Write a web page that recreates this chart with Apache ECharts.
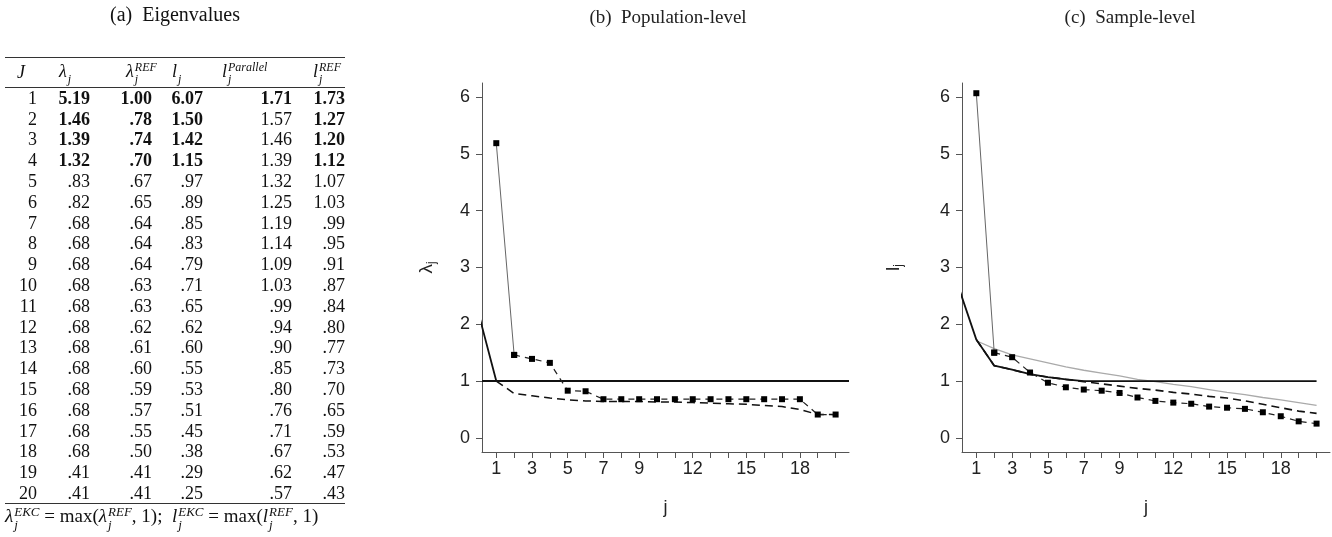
<!DOCTYPE html>
<html>
<head>
    <meta charset="utf-8">
    <script src="https://cdn.jsdelivr.net/npm/echarts@6.0.0/dist/echarts.min.js"></script>
    <style>
        * { margin: 0; padding: 0; box-sizing: border-box; }
        body { background: #fff; width: 1332px; height: 537px; position: relative; overflow: hidden; }
        #chart { position: absolute; left: 0; top: 0; width: 1332px; height: 537px; }
        #panelA {
            position: absolute; left: 5px; top: 0; width: 340px; height: 537px;
            font-family: 'Liberation Serif', 'DejaVu Serif', serif; color: #111; z-index: 2;
        }
        #panelA .ttl { position: absolute; top: 3px; left: 0; width: 340px; text-align: center; font-size: 20px; }
        #eig { position: absolute; top: 57px; left: 0; width: 340px; border-collapse: collapse; font-size: 18px; table-layout: fixed; }
        #eig thead tr { height: 30px; border-top: 1.5px solid #333; border-bottom: 1.5px solid #333; }
        #eig thead th { font-weight: normal; font-style: italic; text-align: left; white-space: nowrap; }
        #eig tbody tr { height: 20.8px; }
        #eig tbody tr:last-child { border-bottom: 1.5px solid #333; }
        #eig td { text-align: right; line-height: 20px; }
        #eig td.b { font-weight: bold; }
        .ss { display: inline-block; vertical-align: middle; line-height: 1; font-size: 12px; text-align: left; margin-left: 1px; }
        .ss span { display: block; }
        .note { position: absolute; top: 505px; left: 0; width: 345px; font-size: 19px; white-space: nowrap; }
        .note i { font-style: italic; }
        .note .ss { font-size: 13px; }
    </style>
</head>
<body>
    <div id="chart"></div>
    <div id="panelA">
        <div class="ttl">(a)&nbsp; Eigenvalues</div>
        <table id="eig">
            <colgroup>
                <col style="width:32px"><col style="width:53px"><col style="width:62px">
                <col style="width:51px"><col style="width:89px"><col style="width:53px">
            </colgroup>
            <thead>
                <tr>
                    <th style="padding-left:12px">J</th>
                    <th style="padding-left:22px">λ<span class="ss"><span>&nbsp;</span><span>j</span></span></th>
                    <th style="padding-left:36px">λ<span class="ss"><span>REF</span><span>j</span></span></th>
                    <th style="padding-left:20px">l<span class="ss"><span>&nbsp;</span><span>j</span></span></th>
                    <th style="padding-left:19px">l<span class="ss"><span>Parallel</span><span>j</span></span></th>
                    <th style="padding-left:21px">l<span class="ss"><span>REF</span><span>j</span></span></th>
                </tr>
            </thead>
            <tbody id="eigBody"></tbody>
        </table>
        <div class="note"><i>λ</i><span class="ss"><span><i>EKC</i></span><span><i>j</i></span></span> = max(<i>λ</i><span class="ss"><span><i>REF</i></span><span><i>j</i></span></span>, 1);&nbsp; <i>l</i><span class="ss"><span><i>EKC</i></span><span><i>j</i></span></span> = max(<i>l</i><span class="ss"><span><i>REF</i></span><span><i>j</i></span></span>, 1)</div>
    </div>

    <script>
        // j = 1..20
        const jIdx = [1, 2, 3, 4, 5, 6, 7, 8, 9, 10, 11, 12, 13, 14, 15, 16, 17, 18, 19, 20];

        // population level
        const lambdaPop = [5.19, 1.46, 1.39, 1.32, .83, .82, .68, .68, .68, .68, .68, .68, .68, .68, .68, .68, .68, .68, .41, .41];
        const lambdaRef = [1.00, .78, .74, .70, .67, .65, .64, .64, .64, .63, .63, .62, .61, .60, .59, .57, .55, .50, .41, .41];
        const lambdaEkc = [1, 1, 1, 1, 1, 1, 1, 1, 1, 1, 1, 1, 1, 1, 1, 1, 1, 1, 1, 1];

        // sample level
        const lSample = [6.07, 1.50, 1.42, 1.15, .97, .89, .85, .83, .79, .71, .65, .62, .60, .55, .53, .51, .45, .38, .29, .25];
        const lParallel = [1.71, 1.57, 1.46, 1.39, 1.32, 1.25, 1.19, 1.14, 1.09, 1.03, .99, .94, .90, .85, .80, .76, .71, .67, .62, .57];
        const lRef = [1.73, 1.27, 1.20, 1.12, 1.07, 1.03, .99, .95, .91, .87, .84, .80, .77, .73, .70, .65, .59, .53, .47, .43];
        const lEkc = [1.73, 1.27, 1.20, 1.12, 1.07, 1.03, 1, 1, 1, 1, 1, 1, 1, 1, 1, 1, 1, 1, 1, 1];

        // where the EKC lines come in from the left edge (at j = 0)
        const ekcLeadPop = 2.2;
        const ekcLeadSample = 2.66;

        const xTicks = jIdx;
        const xLabels = [1, 3, 5, 7, 9, 12, 15, 18];
        const yTicks = [0, 1, 2, 3, 4, 5, 6];

        // ---- table (a) ----
        const fmt = v => v.toFixed(2).replace(/^0/, '');
        const body = document.getElementById('eigBody');
        jIdx.forEach((j, i) => {
            const bold4 = i < 4 ? ' class="b"' : '';
            const bold1 = i < 1 ? ' class="b"' : '';
            const tr = document.createElement('tr');
            tr.innerHTML =
                '<td>' + j + '</td>' +
                '<td' + bold4 + '>' + fmt(lambdaPop[i]) + '</td>' +
                '<td' + bold4 + '>' + fmt(lambdaRef[i]) + '</td>' +
                '<td' + bold4 + '>' + fmt(lSample[i]) + '</td>' +
                '<td' + bold1 + '>' + fmt(lParallel[i]) + '</td>' +
                '<td' + bold4 + '>' + fmt(lRef[i]) + '</td>';
            body.appendChild(tr);
        });

        // ---- plots (b) and (c) ----
        const sans = "'Liberation Sans', Arial, sans-serif";
        const serif = "'Liberation Serif', 'DejaVu Serif', serif";
        const pts = (xs, ys) => xs.map((x, i) => [x, ys[i]]);

        const xAxisBase = gi => ({
            type: 'value', gridIndex: gi, min: 0.2, max: 20.75,
            name: 'j', nameLocation: 'middle', nameGap: 47,
            nameTextStyle: { fontSize: 18, fontFamily: sans, color: '#222' },
            axisLine: { onZero: false, lineStyle: { color: '#555', width: 1 } },
            axisTick: { customValues: xTicks, length: 6, lineStyle: { color: '#555' } },
            axisLabel: { customValues: xLabels, fontSize: 18, fontFamily: sans, color: '#222', margin: 8 },
            splitLine: { show: false }
        });
        const yAxisBase = (gi, name, gap) => ({
            type: 'value', gridIndex: gi, min: -0.25, max: 6.25,
            name: name, nameLocation: 'middle', nameGap: gap,
            nameTextStyle: {
                fontSize: 18, fontFamily: sans, color: '#222',
                rich: {
                    m: { fontSize: 19, fontFamily: sans, color: '#222', lineHeight: 22 },
                    s: { fontSize: 12, fontFamily: sans, color: '#222', verticalAlign: 'bottom', lineHeight: 14, padding: [8, 0, 0, 0] }
                }
            },
            axisLine: { show: true, onZero: false, lineStyle: { color: '#555', width: 1 } },
            axisTick: { show: true, customValues: yTicks, length: 6, lineStyle: { color: '#555' } },
            axisLabel: { customValues: yTicks, fontSize: 18, fontFamily: sans, color: '#222', margin: 12 },
            splitLine: { show: false }
        });

        const markerSeries = (gi, ys, name) => ([
            // steep first step drawn as a thin solid line
            {
                name: name, type: 'line', xAxisIndex: gi, yAxisIndex: gi, z: 5,
                data: pts(jIdx.slice(0, 2), ys.slice(0, 2)),
                symbol: 'rect', symbolSize: 6, itemStyle: { color: '#000' },
                lineStyle: { color: '#666', width: 1 }
            },
            {
                name: name, type: 'line', xAxisIndex: gi, yAxisIndex: gi, z: 5,
                data: pts(jIdx.slice(1), ys.slice(1)),
                symbol: 'rect', symbolSize: 6, itemStyle: { color: '#000' },
                lineStyle: { color: '#222', width: 1.2, type: [6, 5] }
            }
        ]);

        const option = {
            backgroundColor: '#fff',
            animation: false,
            title: [
                { text: '(b)  Population-level', left: 663, top: 4, textAlign: 'center',
                  textStyle: { fontFamily: serif, fontSize: 19, fontWeight: 'normal', color: '#222' } },
                { text: '(c)  Sample-level', left: 1125, top: 4, textAlign: 'center',
                  textStyle: { fontFamily: serif, fontSize: 19, fontWeight: 'normal', color: '#222' } }
            ],
            grid: [
                { left: 482, top: 83, width: 367, height: 369, containLabel: false },
                { left: 962, top: 83, width: 368, height: 369, containLabel: false }
            ],
            xAxis: [xAxisBase(0), xAxisBase(1)],
            yAxis: [
                yAxisBase(0, '{m|λ}{s|j}', 44),
                yAxisBase(1, '{m|l}{s|j}', 57)
            ],
            series: [
                // (b)
                {
                    name: 'λ EKC', type: 'line', xAxisIndex: 0, yAxisIndex: 0, z: 3,
                    data: [[0, ekcLeadPop]].concat(pts(jIdx, lambdaEkc)),
                    showSymbol: false, lineStyle: { color: '#111', width: 1.8 },
                    markLine: {
                        silent: true, symbol: 'none', label: { show: false },
                        lineStyle: { color: '#111', width: 1.8, type: 'solid' },
                        data: [{ yAxis: 1 }]
                    }
                },
                {
                    name: 'λ REF', type: 'line', xAxisIndex: 0, yAxisIndex: 0, z: 3,
                    data: pts(jIdx, lambdaRef),
                    showSymbol: false, lineStyle: { color: '#111', width: 1.5, type: [8, 5] }
                },
                ...markerSeries(0, lambdaPop, 'λ'),
                // (c)
                {
                    name: 'l Parallel', type: 'line', xAxisIndex: 1, yAxisIndex: 1, z: 2,
                    data: pts(jIdx, lParallel),
                    showSymbol: false, lineStyle: { color: '#aaa', width: 1.3 }
                },
                {
                    name: 'l REF', type: 'line', xAxisIndex: 1, yAxisIndex: 1, z: 3,
                    data: pts(jIdx, lRef),
                    showSymbol: false, lineStyle: { color: '#111', width: 1.6, type: [8, 5] }
                },
                {
                    name: 'l EKC', type: 'line', xAxisIndex: 1, yAxisIndex: 1, z: 4,
                    data: [[0, ekcLeadSample]].concat(pts(jIdx, lEkc)),
                    showSymbol: false, lineStyle: { color: '#111', width: 1.8 }
                },
                ...markerSeries(1, lSample, 'l')
            ]
        };

        const chart = echarts.init(document.getElementById('chart'));
        chart.setOption(option);
    </script>
</body>
</html>
